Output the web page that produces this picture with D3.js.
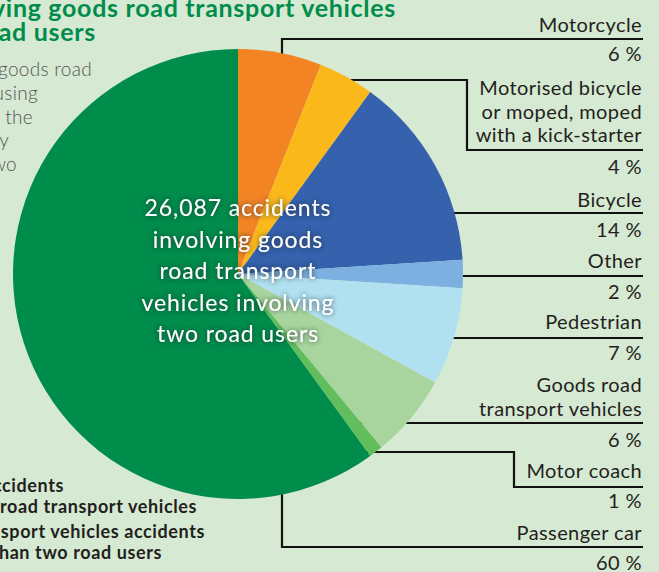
<!DOCTYPE html>
<html>
<head>
<meta charset="utf-8">
<title>Goods road transport vehicle accidents</title>
<style>
body { margin: 0; background: #d6e9d2; overflow: hidden; }
svg { display: block; }
text { font-family: Lato, "Noto Sans", sans-serif; }
.title { fill: #008c4a; font-size: 25px; font-weight: 700; letter-spacing: 0.7px; }
.intro { fill: #555; font-size: 19px; font-weight: 300; letter-spacing: 0.3px; }
.legend { fill: #231f20; font-size: 18px; font-weight: 700; letter-spacing: 0.6px; }
.lbl { fill: #231f20; font-size: 20px; text-anchor: end; letter-spacing: 0.4px; }
.centre { fill: #fff; font-size: 23px; text-anchor: middle; letter-spacing: 0.9px; }
.leader { fill: none; stroke: #111; stroke-width: 2.2px; }
</style>
</head>
<body>
<script src="https://cdn.jsdelivr.net/npm/d3@7"></script>
<script>

// data
var categories = ["Motorcycle", "Motorised bicycle or moped, moped with a kick-starter", "Bicycle",
  "Other", "Pedestrian", "Goods road transport vehicles", "Motor coach", "Passenger car"];
var shares = [6, 4, 14, 2, 7, 6, 1, 60];
var labelLines = [
  ["Motorcycle"],
  ["Motorised bicycle", "or moped, moped", "with a kick-starter"],
  ["Bicycle"],
  ["Other"],
  ["Pedestrian"],
  ["Goods road", "transport vehicles"],
  ["Motor coach"],
  ["Passenger car"]
];
var colours = ["#f28424", "#fbb81b", "#3561ad", "#7bb0e0", "#b1e1f1", "#a8d59d", "#62bd5d", "#008c4a"];
var centreText = ["26,087 accidents", "involving goods", "road transport", "vehicles involving", "two road users"];

var width = 659, height = 572;
var cx = 238, cy = 274, radius = 225;

// where each label sits: name baseline, percentage baseline
var labelLayout = [
  {y: 32, pct: 61},
  {y: 95, pct: 174},
  {y: 207, pct: 237},
  {y: 268, pct: 299},
  {y: 329, pct: 360},
  {y: 392, pct: 447},
  {y: 478, pct: 508},
  {y: 540, pct: 570}
];
// leader paths (elbows) - drawn under the pie so they start inside it
var leaders = [
  [[282, 120], [282, 39], [643, 39]],
  [[330, 80], [467, 80], [467, 150], [643, 150]],
  [[400, 213], [643, 213]],
  [[400, 276], [643, 276]],
  [[400, 338], [643, 338]],
  [[360, 423], [643, 423]],
  [[340, 452], [514, 452], [514, 487], [643, 487]],
  [[282, 400], [282, 547], [643, 547]]
];

var svg = d3.select("body").append("svg")
    .attr("width", width)
    .attr("height", height);

var defs = svg.append("defs");
var glow = defs.append("filter").attr("id", "glow")
    .attr("x", "-20%").attr("y", "-40%").attr("width", "140%").attr("height", "180%");
glow.append("feDropShadow").attr("dx", 0).attr("dy", 0)
    .attr("stdDeviation", 2.5).attr("flood-color", "#1a2a33").attr("flood-opacity", 0.85);

// title, cut off on the left as in the page it came from
svg.append("text").attr("class", "title").attr("text-anchor", "end")
    .attr("x", 396).attr("y", 17)
    .text("Accidents involving goods road transport vehicles");
svg.append("text").attr("class", "title").attr("text-anchor", "end")
    .attr("x", 96).attr("y", 41)
    .text("involving two road users");

var intro = [
  ["accidents involving goods road", 92, 76],
  ["road transport vehicles, using", 38, 100],
  ["data from the", 33, 124],
  ["by", 9, 147],
  ["two", 17, 171]
];
svg.selectAll(".intro").data(intro).enter().append("text")
    .attr("class", "intro").attr("text-anchor", "end")
    .attr("x", function(d) { return d[1]; })
    .attr("y", function(d) { return d[2]; })
    .text(function(d) { return d[0]; });

var legend = [
  ["Passenger car accidents", 64, 492],
  ["involving goods road transport vehicles", 197, 513],
  ["Goods road transport vehicles accidents", 205, 538],
  ["involving more than two road users", 162, 559]
];
svg.selectAll(".legend").data(legend).enter().append("text")
    .attr("class", "legend").attr("text-anchor", "end")
    .attr("x", function(d) { return d[1]; })
    .attr("y", function(d) { return d[2]; })
    .text(function(d) { return d[0]; });

// leaders
var line = d3.line();
svg.append("g").selectAll("path")
    .data(leaders)
    .enter().append("path")
    .attr("class", "leader")
    .attr("d", line);

// pie
var pie = d3.pie().sort(null).value(function(d) { return d; });
var arc = d3.arc().innerRadius(0).outerRadius(radius);
var colour = d3.scaleOrdinal().domain(categories).range(colours);

svg.append("g")
    .attr("transform", "translate(" + cx + "," + cy + ")")
    .selectAll("path")
    .data(pie(shares))
    .enter().append("path")
    .attr("d", arc)
    .attr("fill", function(d, i) { return colour(categories[i]); });

// labels on the right
var lab = svg.append("g").selectAll("g")
    .data(categories)
    .enter().append("g");

lab.each(function(c, i) {
  var g = d3.select(this);
  var lay = labelLayout[i];
  labelLines[i].forEach(function(t, j) {
    g.append("text").attr("class", "lbl")
        .attr("x", 642)
        .attr("y", lay.y + j * 23.5)
        .text(t);
  });
  g.append("text").attr("class", "lbl")
      .attr("x", 642)
      .attr("y", lay.pct)
      .text(shares[i] + " %");
});

// centre note
svg.append("g").selectAll("text")
    .data(centreText)
    .enter().append("text")
    .attr("class", "centre")
    .attr("filter", "url(#glow)")
    .attr("x", cx)
    .attr("y", function(d, i) { return 216 + i * 31.5; })
    .text(function(d) { return d; });

</script>
</body>
</html>
